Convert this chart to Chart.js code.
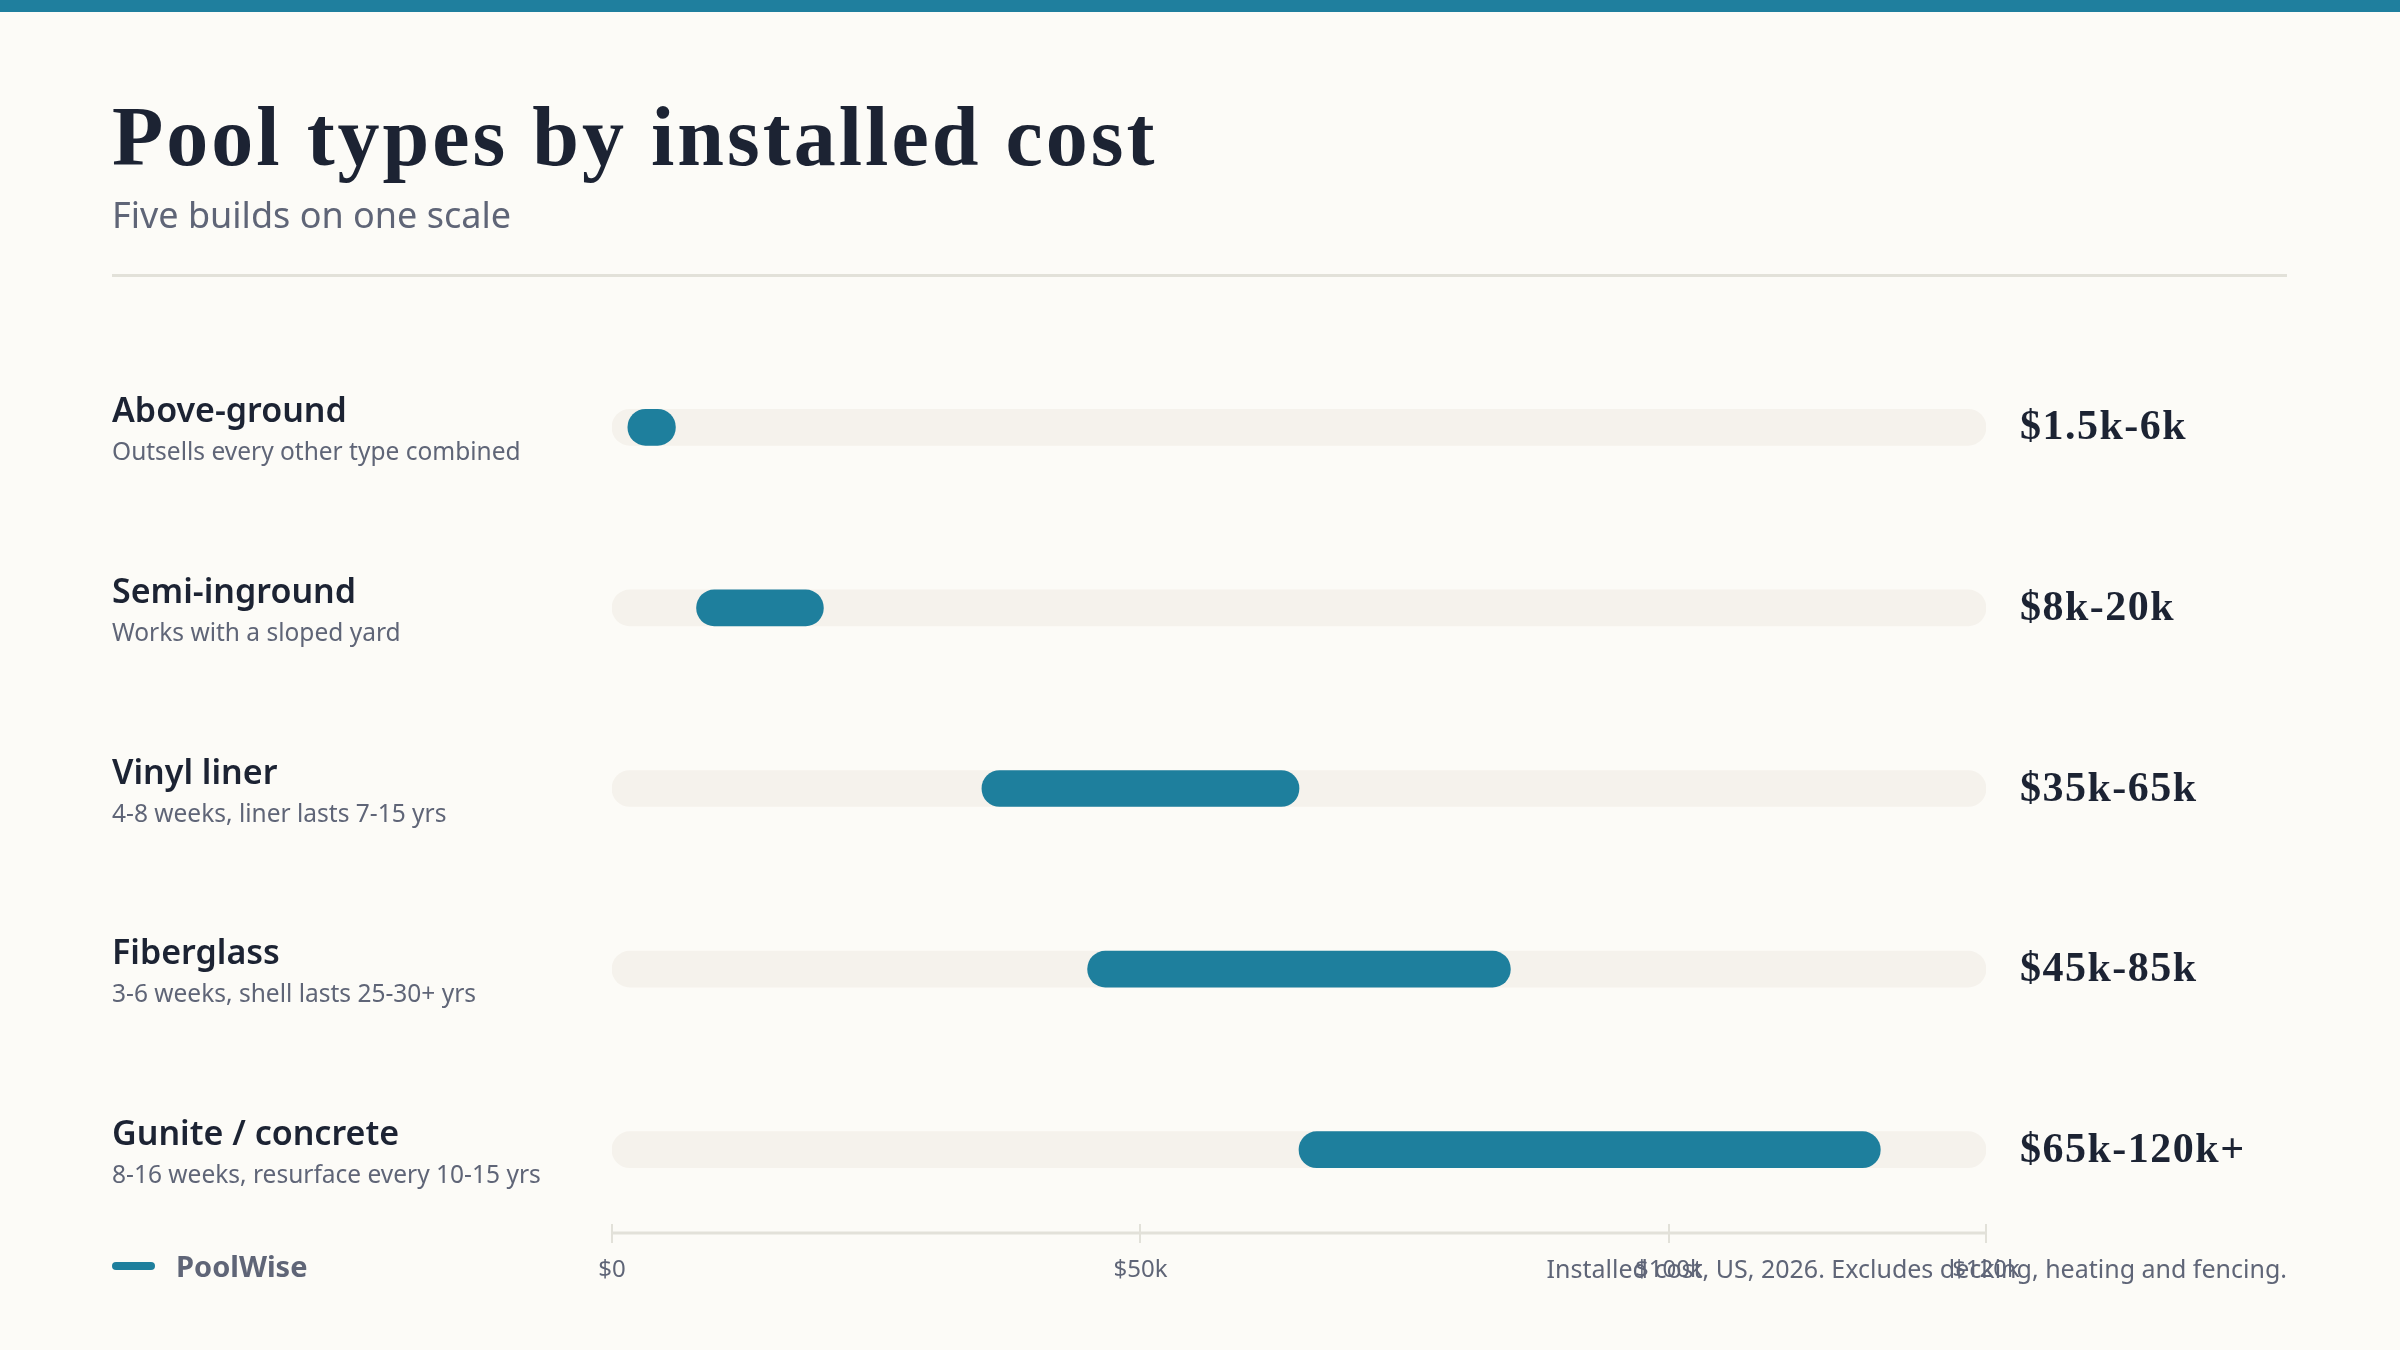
<!DOCTYPE html>
<html>
<head>
  <title>Pool types by installed cost</title>
  <meta charset="utf-8">
  <style>
    html, body { margin: 0; padding: 0; background: #fcfbf7; }
    #topBar { position: absolute; left: 0; top: 0; width: 2400px; height: 12px; background: #1f7f9e; }
    #costChart { position: absolute; left: 0; top: 0; }
  </style>
</head>
<body>
<script src="https://cdn.jsdelivr.net/npm/chart.js"></script>
<div id="topBar"></div>
<canvas id="costChart" width="2400" height="1350" style="width:2400px;height:1350px;"></canvas>
<script>
    // Data (thousands of dollars)
    const poolTypes = ['Above-ground', 'Semi-inground', 'Vinyl liner', 'Fiberglass', 'Gunite / concrete'];
    const poolNotes = [
        'Outsells every other type combined',
        'Works with a sloped yard',
        '4-8 weeks, liner lasts 7-15 yrs',
        '3-6 weeks, shell lasts 25-30+ yrs',
        '8-16 weeks, resurface every 10-15 yrs'
    ];
    const costLow = [1.5, 8, 35, 45, 65];
    const costHigh = [6, 20, 65, 85, 120];
    const costLabels = ['$1.5k-6k', '$8k-20k', '$35k-65k', '$45k-85k', '$65k-120k+'];
    const axisMin = 0;
    const axisMax = 130;
    const tickValues = [0, 50, 100, 130];
    const tickLabels = ['$0', '$50k', '$100k', '$120k'];

    const INK = '#1c2333';
    const MUTED = '#5f6577';
    const TEAL = '#1e7f9d';
    const TRACK = '#f5f2ec';
    const RULE = '#e2e1d9';

    // Text around the bars: row names, notes, value labels, axis line
    const rowLabels = {
        id: 'rowLabels',
        beforeDatasetsDraw(chart) {
            const ctx = chart.ctx;
            const x = chart.scales.x;
            const axisY = chart.chartArea.bottom - 7;
            ctx.save();
            ctx.strokeStyle = RULE;
            ctx.lineWidth = 3;
            ctx.beginPath();
            ctx.moveTo(x.getPixelForValue(axisMin), axisY);
            ctx.lineTo(x.getPixelForValue(axisMax), axisY);
            ctx.stroke();
            ctx.lineWidth = 2;
            tickValues.forEach(v => {
                const px = Math.round(x.getPixelForValue(v));
                ctx.beginPath();
                ctx.moveTo(px, axisY - 9);
                ctx.lineTo(px, axisY + 10);
                ctx.stroke();
            });
            ctx.restore();
        },
        afterDatasetsDraw(chart) {
            const ctx = chart.ctx;
            const y = chart.scales.y;
            const x = chart.scales.x;
            ctx.save();
            ctx.textBaseline = 'alphabetic';
            poolTypes.forEach((name, i) => {
                const cy = y.getPixelForValue(i);
                ctx.textAlign = 'left';
                ctx.letterSpacing = '0px';
                ctx.fillStyle = INK;
                ctx.font = '600 34px "Noto Sans"';
                ctx.fillText(name, 112, cy - 5);
                ctx.fillStyle = MUTED;
                ctx.font = '24.5px "Noto Sans"';
                ctx.fillText(poolNotes[i], 112, cy + 33);
                ctx.fillStyle = INK;
                ctx.font = 'bold 42px "Liberation Serif"';
                ctx.letterSpacing = '1.5px';
                ctx.fillText(costLabels[i], x.getPixelForValue(axisMax) + 34, cy + 12);
            });
            ctx.restore();
        },
        afterDraw(chart) {
            const ctx = chart.ctx;
            ctx.save();
            ctx.textBaseline = 'alphabetic';
            ctx.textAlign = 'left';
            // title + subtitle
            ctx.fillStyle = INK;
            ctx.font = 'bold 84px "Liberation Serif"';
            ctx.letterSpacing = '3px';
            ctx.fillText('Pool types by installed cost', 112, 165);
            ctx.letterSpacing = '0px';
            ctx.fillStyle = MUTED;
            ctx.font = '36px "Noto Sans"';
            ctx.fillText('Five builds on one scale', 112, 228);
            ctx.fillStyle = RULE;
            ctx.fillRect(112, 274, 2175, 3);
            // legend
            ctx.fillStyle = TEAL;
            ctx.beginPath();
            ctx.roundRect(112, 1262, 43, 8, 4);
            ctx.fill();
            ctx.fillStyle = MUTED;
            ctx.font = 'bold 29px "Noto Sans"';
            ctx.fillText('PoolWise', 176, 1277);
            // footer note
            ctx.textAlign = 'right';
            ctx.font = '25px "Noto Sans"';
            ctx.fillText('Installed cost, US, 2026. Excludes decking, heating and fencing.', 2287, 1278);
            ctx.restore();
        }
    };

    new Chart(document.getElementById('costChart').getContext('2d'), {
        type: 'bar',
        data: {
            labels: poolTypes,
            datasets: [
                {
                    label: 'PoolWise',
                    data: costLow.map((lo, i) => [lo, costHigh[i]]),
                    backgroundColor: TEAL,
                    borderRadius: 18,
                    borderSkipped: false,
                    barThickness: 36,
                    grouped: false,
                    order: 0
                },
                {
                    label: 'track',
                    data: poolTypes.map(() => [axisMin, axisMax]),
                    backgroundColor: TRACK,
                    borderRadius: 18,
                    borderSkipped: false,
                    barThickness: 36,
                    grouped: false,
                    order: 1
                }
            ]
        },
        options: {
            indexAxis: 'y',
            responsive: false,
            animation: false,
            devicePixelRatio: 1,
            layout: { padding: { left: 612, right: 414, top: 337, bottom: 50 } },
            plugins: {
                legend: { display: false },
                tooltip: { enabled: false }
            },
            scales: {
                y: { display: false },
                x: {
                    min: axisMin,
                    max: axisMax,
                    afterBuildTicks: scale => { scale.ticks = tickValues.map(v => ({ value: v })); },
                    afterFit: scale => { scale.height = 60; },
                    grid: { display: false },
                    border: { display: false },
                    ticks: {
                        padding: 8,
                        color: MUTED,
                        font: { family: 'Noto Sans', size: 24 },
                        callback: (v, i) => tickLabels[i]
                    }
                }
            }
        },
        plugins: [rowLabels]
    });
</script>
</body>
</html>
